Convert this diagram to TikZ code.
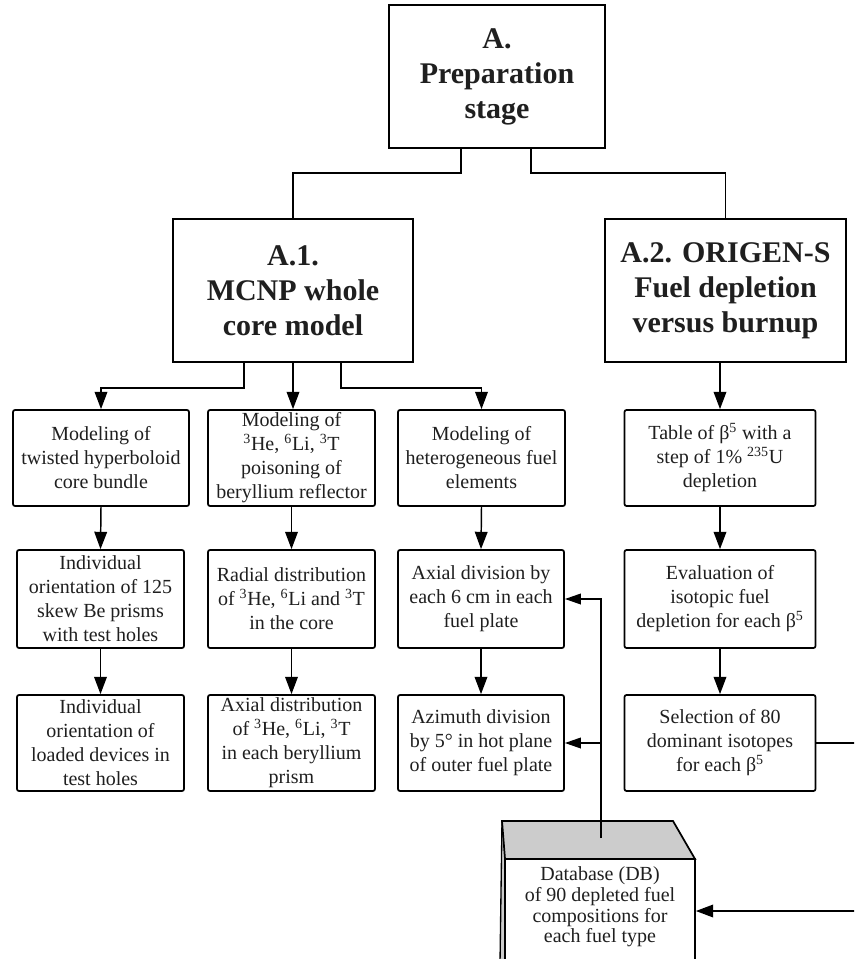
\documentclass[tikz,border=0pt]{standalone}
\usepackage{fontspec}
\setmainfont{Liberation Serif}
\usetikzlibrary{arrows.meta}
\begin{document}
\begin{tikzpicture}[x=0.75pt,y=-0.75pt,
 box/.style={draw, line width=1.3pt, fill=white, align=center, inner sep=0pt, text=black!88},
 head/.style={box, font=\bfseries\fontsize{22.5}{26.25}\selectfont},
 small/.style={box, rounded corners=1.5pt, font=\fontsize{15}{18}\selectfont},
 arr/.style={line width=1.1pt, -{Triangle[length=13pt,width=9.5pt]}},
 sarr/.style={line width=1.1pt, -{Triangle[length=12pt,width=8pt]}},
 ln/.style={line width=1.1pt}]
\clip (0,0) rectangle (854,959);
\fill[white] (0,0) rectangle (854,959);

% header boxes
\node[head, minimum width=162pt, minimum height=107.25pt] (A) at (497,76.5) {A.\\Preparation\\stage};
\node[head, minimum width=180pt, minimum height=107.25pt] (A1) at (293,290.5) {A.1.\\MCNP whole\\core model};
\node[head, minimum width=180.75pt, minimum height=107.25pt] (A2) at (725.5,290.5) {A.2. ORIGEN-S\\Fuel depletion\\versus burnup};

% row 1
\node[small, minimum width=132pt, minimum height=72pt] (b11) at (101,458) {Modeling of\\twisted hyperboloid\\core bundle};
\node[small, minimum width=125.25pt, minimum height=72pt] (b12) at (291.5,458) {Modeling of\\\textsuperscript{3}He, \textsuperscript{6}Li, \textsuperscript{3}T\\poisoning of\\beryllium reflector};
\node[small, minimum width=125.25pt, minimum height=72pt] (b13) at (481.5,458) {Modeling of\\heterogeneous fuel\\elements};
\node[small, minimum width=143.25pt, minimum height=72pt] (b14) at (720,458) {Table of β\textsuperscript{5} with a\\step of 1\% \textsuperscript{235}U\\depletion};

% row 2
\node[small, minimum width=125.25pt, minimum height=73.5pt] (b21) at (100.5,599) {Individual\\orientation of 125\\skew Be prisms\\with test holes};
\node[small, minimum width=125.25pt, minimum height=73.5pt] (b22) at (291.5,599) {Radial distribution\\of \textsuperscript{3}He, \textsuperscript{6}Li and \textsuperscript{3}T\\in the core};
\node[small, minimum width=124.5pt, minimum height=73.5pt] (b23) at (481,599) {Axial division by\\each 6 cm in each\\fuel plate};
\node[small, minimum width=143.25pt, minimum height=73.5pt] (b24) at (720,599) {Evaluation of\\isotopic fuel\\depletion for each β\textsuperscript{5}};

% row 3
\node[small, minimum width=125.25pt, minimum height=72pt] (b31) at (100.5,743) {Individual\\orientation of\\loaded devices in\\test holes};
\node[small, minimum width=125.25pt, minimum height=72pt] (b32) at (291.5,743) {Axial distribution\\of \textsuperscript{3}He, \textsuperscript{6}Li, \textsuperscript{3}T\\in each beryllium\\prism};
\node[small, minimum width=124.5pt, minimum height=72pt] (b33) at (481,743) {Azimuth division\\by 5° in hot plane\\of outer fuel plate};
\node[small, minimum width=143.25pt, minimum height=72pt] (b34) at (720,743) {Selection of 80\\dominant isotopes\\for each β\textsuperscript{5}};

% database box
\fill[gray!40, draw=black, line width=1pt] (502,821) -- (506,859) -- (506,963) -- (500,963) -- cycle;
\fill[gray!40, draw=black, line width=1.3pt] (502,821) -- (673,821) -- (695,859) -- (505,859) -- cycle;
\node[box, line width=1.3pt, minimum width=142.5pt, minimum height=78pt] (DB) at (600,911) {};
\node[align=center, inner sep=0pt, text=black!88, font=\fontsize{15}{15.4}\selectfont] (DBtext) at (600,907) {Database (DB)\\of 90 depleted fuel\\compositions for\\each fuel type};
\coordinate (dbtop) at (601,838);

% connectors from A
\draw[ln] ([xshift=-27pt]A.south) -- ++(0,24) -| (A1.north);
\draw[ln] ([xshift=25.5pt]A.south) -- ++(0,24) -| (A2.north);

% connectors from A1
\draw[arr] ([xshift=-36.75pt]A1.south) -- ++(0,25) -| (b11.north);
\draw[arr] (A1.south) -- (A1.south |- b12.north);
\draw[arr] ([xshift=36pt]A1.south) -- ++(0,25) -| (b13.north);
\draw[arr] (b14.north |- A2.south) -- (b14.north);

% vertical chains
\draw[arr] (b11.south) -- (b21.north);
\draw[arr] (b21.south) -- (b31.north);
\draw[arr] (b12.south) -- (b22.north);
\draw[arr] (b22.south) -- (b32.north);
\draw[arr] (b13.south) -- (b23.north);
\draw[arr] (b23.south) -- (b33.north);
\draw[arr] (b14.south) -- (b24.north);
\draw[arr] (b24.south) -- (b34.north);

% database feedback
\draw[sarr] (dbtop) |- (b23.east);
\draw[sarr] (dbtop |- b33.east) -- (b33.east);
\draw[arr] (b34.east) -- ++(50,0) |- (DB.east);
\end{tikzpicture}
\end{document}
